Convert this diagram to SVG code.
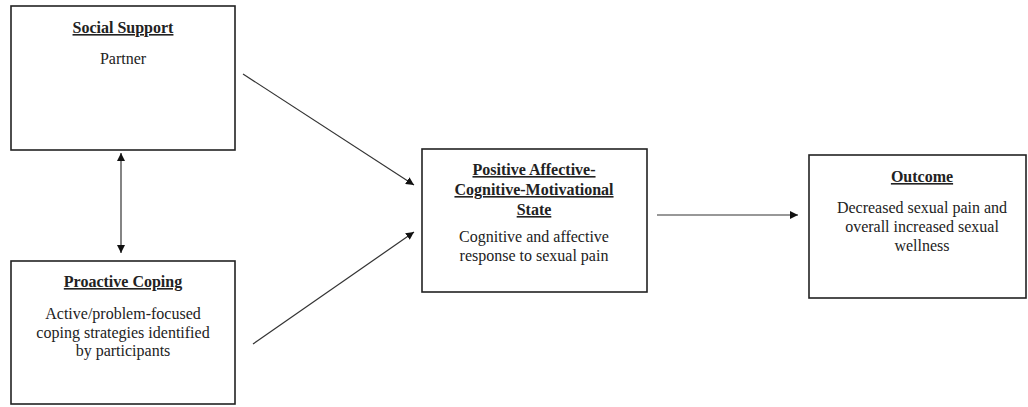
<svg xmlns="http://www.w3.org/2000/svg" width="1028" height="407" viewBox="0 0 1028 407">
<style>
.box{fill:#fff;stroke:#222;stroke-width:1.6}
.t{font-family:"Liberation Serif","Times New Roman",serif;font-size:16px;fill:#222;text-anchor:middle}
.h{font-weight:bold;text-decoration:underline}
.c{stroke:#333;stroke-width:1.2;fill:none}
</style>
<defs>
<marker id="ah" viewBox="0 0 10 10" refX="10" refY="5" markerWidth="8" markerHeight="8" markerUnits="userSpaceOnUse" orient="auto-start-reverse">
<path d="M0,0 L10,5 L0,10 z" fill="#111"/>
</marker>
</defs>
<rect width="1028" height="407" fill="#fff"/>
<g id="social-support">
<rect class="box" x="11" y="6" width="224" height="144"/>
<text class="t h" x="123" y="33">Social Support</text>
<text class="t" x="123" y="64">Partner</text>
</g>
<g id="proactive-coping">
<rect class="box" x="11" y="261" width="224" height="143"/>
<text class="t h" x="123" y="287">Proactive Coping</text>
<text class="t" x="123" y="319">Active/problem-focused</text>
<text class="t" x="123" y="338">coping strategies identified</text>
<text class="t" x="123" y="356">by participants</text>
</g>
<g id="positive-state">
<rect class="box" x="422" y="149" width="225" height="143"/>
<text class="t h" x="534" y="175">Positive Affective-</text>
<text class="t h" x="534" y="195">Cognitive-Motivational</text>
<text class="t h" x="534" y="215">State</text>
<text class="t" x="534" y="242">Cognitive and affective</text>
<text class="t" x="534" y="261">response to sexual pain</text>
</g>
<g id="outcome">
<rect class="box" x="809" y="155" width="217" height="143"/>
<text class="t h" x="922" y="182">Outcome</text>
<text class="t" x="922" y="213">Decreased sexual pain and</text>
<text class="t" x="922" y="232">overall increased sexual</text>
<text class="t" x="922" y="251">wellness</text>
</g>
<g id="connectors">
<line class="c" x1="121" y1="153" x2="121" y2="253" marker-start="url(#ah)" marker-end="url(#ah)"/>
<line class="c" x1="243" y1="74" x2="414" y2="185" marker-end="url(#ah)"/>
<line class="c" x1="253" y1="344" x2="414" y2="232" marker-end="url(#ah)"/>
<line class="c" x1="657" y1="215" x2="798" y2="215" marker-end="url(#ah)"/>
</g>
</svg>
